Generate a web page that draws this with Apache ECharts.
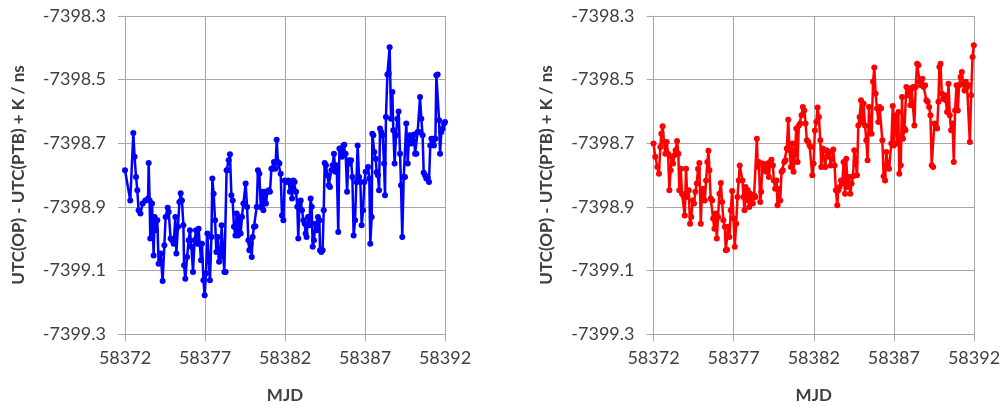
<!DOCTYPE html>
<html><head><meta charset="utf-8">
<script src="https://cdn.jsdelivr.net/npm/echarts@6/dist/echarts.min.js"></script>
<style>html,body{margin:0;padding:0;background:#fff}#c{width:1006px;height:410px}</style>
</head><body><div id="c"></div>
<script>
const xTicks = [58372, 58377, 58382, 58387, 58392];
const yTicks = [-7399.3, -7399.1, -7398.9, -7398.7, -7398.5, -7398.3];
const xTitle = 'MJD';
const yTitle = 'UTC(OP) - UTC(PTB) + K / ns';

const blueMjd = [
58372.00,58372.33,58372.52,58372.60,58372.69,58372.77,58372.85,58372.96,58373.10,58373.27,
58373.44,58373.48,58373.54,58373.58,58373.69,58373.79,58373.85,58373.94,58374.02,58374.10,
58374.23,58374.35,58374.46,58374.54,58374.67,58374.73,58374.85,58374.94,58375.04,58375.15,
58375.21,58375.31,58375.40,58375.48,58375.56,58375.65,58375.69,58375.77,58375.88,58375.98,
58376.06,58376.15,58376.25,58376.35,58376.44,58376.52,58376.60,58376.67,58376.75,58376.81,
58376.90,58376.98,
58377.06,58377.15,58377.23,58377.31,58377.40,58377.46,58377.54,58377.63,58377.71,58377.79,
58377.88,58377.96,58378.04,58378.13,58378.21,58378.29,58378.35,58378.42,58378.48,58378.56,
58378.65,58378.73,58378.81,58378.90,58378.98,58379.06,58379.15,58379.23,58379.31,58379.40,
58379.48,58379.54,58379.63,58379.71,58379.77,58379.85,58379.92,58379.98,58380.06,58380.15,
58380.23,58380.31,58380.40,58380.48,58380.56,58380.65,58380.73,58380.81,58380.90,58380.98,
58381.06,58381.15,58381.23,58381.31,58381.40,58381.48,58381.56,58381.65,58381.73,58381.81,
58381.90,58381.98,
58382.10,58382.21,58382.31,58382.38,58382.44,58382.52,58382.60,58382.69,58382.77,58382.83,
58382.90,58382.98,58383.06,58383.15,58383.23,58383.29,58383.35,58383.44,58383.52,58383.60,
58383.67,58383.73,58383.81,58383.90,58383.98,58384.06,58384.15,58384.19,58384.27,58384.35,
58384.42,58384.48,58384.56,58384.65,58384.73,58384.81,58384.90,58384.98,58385.06,58385.15,
58385.23,58385.33,58385.40,58385.48,58385.56,58385.65,58385.71,58385.79,58385.88,58385.96,
58386.04,58386.13,58386.21,58386.29,58386.38,58386.46,58386.54,58386.63,58386.71,58386.79,
58386.88,58386.96,58387.04,
58387.19,58387.27,58387.33,58387.42,58387.46,58387.52,58387.58,58387.67,58387.73,58387.81,
58387.88,58387.94,58388.02,58388.10,58388.19,58388.25,58388.31,58388.40,58388.48,58388.54,
58388.63,58388.71,58388.77,58388.85,58388.94,58389.02,58389.10,58389.19,58389.25,58389.33,
58389.42,58389.50,58389.58,58389.67,58389.73,58389.81,58389.90,58389.98,58390.06,58390.13,
58390.21,58390.29,58390.38,58390.44,58390.52,58390.60,58390.67,58390.75,58390.83,58390.92,
58391.00,58391.08,58391.15,58391.23,58391.31,58391.40,58391.46,58391.54,58391.63,58391.69,
58391.77,58391.85,58391.94,58392.00
];
const blueVal = [
-7398.785,-7398.880,-7398.668,-7398.743,-7398.806,-7398.848,-7398.911,-7398.921,-7398.890,-7398.880,
-7398.874,-7398.762,-7398.880,-7399.000,-7398.890,-7399.053,-7398.932,-7398.974,-7398.942,-7399.079,
-7399.047,-7399.133,-7399.021,-7398.932,-7398.903,-7398.916,-7399.000,-7399.005,-7399.016,-7398.932,
-7399.047,-7398.963,-7398.885,-7398.857,-7398.880,-7398.958,-7399.084,-7399.126,-7399.058,-7399.005,
-7398.974,-7399.026,-7399.105,-7399.005,-7398.974,-7399.016,-7398.969,-7399.016,-7399.068,-7399.016,
-7399.131,-7399.178,
-7399.110,-7398.984,-7399.068,-7399.131,-7398.995,-7398.811,-7398.859,-7398.942,-7399.042,-7398.995,
-7399.073,-7399.058,-7398.958,-7399.047,-7399.105,-7399.105,-7398.785,-7398.785,-7398.754,-7398.735,
-7398.864,-7398.880,-7398.963,-7398.990,-7398.921,-7398.990,-7398.932,-7398.984,-7398.932,-7398.890,
-7398.890,-7398.827,-7398.901,-7399.005,-7399.037,-7399.016,-7399.058,-7398.995,-7398.963,-7398.961,
-7398.901,-7398.785,-7398.796,-7398.901,-7398.853,-7398.911,-7398.853,-7398.890,-7398.853,-7398.848,
-7398.853,-7398.780,-7398.780,-7398.759,-7398.780,-7398.689,-7398.759,-7398.764,-7398.796,-7398.927,
-7398.942,-7398.817,
-7398.822,-7398.817,-7398.853,-7398.832,-7398.874,-7398.817,-7398.822,-7398.853,-7398.900,-7399.000,
-7398.890,-7398.880,-7398.911,-7398.942,-7398.953,-7398.984,-7398.995,-7398.932,-7398.958,-7398.874,
-7398.900,-7399.026,-7399.005,-7398.953,-7398.974,-7398.932,-7398.942,-7399.037,-7399.042,-7399.037,
-7398.911,-7398.762,-7398.769,-7398.801,-7398.832,-7398.838,-7398.785,-7398.769,-7398.733,-7398.790,
-7398.769,-7398.979,-7398.717,-7398.722,-7398.743,-7398.707,-7398.705,-7398.733,-7398.853,-7398.754,
-7398.764,-7398.754,-7398.806,-7398.990,-7398.942,-7398.822,-7398.707,-7398.806,-7398.822,-7398.958,
-7398.911,-7398.822,-7398.790,
-7398.775,-7398.811,-7399.016,-7398.932,-7398.670,-7398.675,-7398.728,-7398.749,-7398.791,-7398.801,
-7398.848,-7398.654,-7398.665,-7398.675,-7398.764,-7398.864,-7398.618,-7398.484,-7398.481,-7398.398,
-7398.623,-7398.539,-7398.659,-7398.764,-7398.675,-7398.623,-7398.600,-7398.733,-7398.832,-7398.995,
-7398.806,-7398.806,-7398.638,-7398.764,-7398.701,-7398.675,-7398.701,-7398.696,-7398.673,-7398.733,
-7398.733,-7398.665,-7398.665,-7398.555,-7398.623,-7398.675,-7398.793,-7398.801,-7398.811,-7398.809,
-7398.822,-7398.707,-7398.686,-7398.686,-7398.707,-7398.686,-7398.486,-7398.484,-7398.628,-7398.733,
-7398.665,-7398.654,-7398.638,-7398.633
];

const redMjd = [
58372.00,58372.11,58372.24,58372.34,58372.43,58372.49,58372.57,58372.66,58372.74,58372.82,
58372.91,58372.99,58373.07,58373.13,58373.22,58373.30,58373.38,58373.47,58373.55,58373.61,
58373.70,58373.78,58373.86,58373.95,58374.03,58374.11,58374.20,58374.28,58374.36,58374.45,
58374.53,58374.61,58374.70,58374.78,58374.86,58374.95,58375.03,58375.11,58375.20,58375.28,
58375.36,58375.43,58375.49,58375.57,58375.66,58375.72,58375.80,58375.88,58375.95,58376.03,
58376.11,58376.20,58376.28,58376.36,58376.45,58376.51,58376.59,58376.66,58376.74,58376.82,
58376.91,58376.99,58377.07,58377.16,58377.24,58377.32,58377.38,
58377.55,58377.61,58377.68,58377.74,58377.82,58377.88,58377.97,58378.03,58378.11,58378.20,
58378.28,58378.36,58378.45,58378.51,58378.57,58378.66,58378.72,58378.80,58378.86,58378.95,
58379.03,58379.11,58379.20,58379.28,58379.36,58379.45,58379.51,58379.59,58379.68,58379.74,
58379.82,58379.91,58379.99,58380.07,58380.16,58380.24,58380.32,58380.41,58380.49,58380.57,
58380.66,58380.74,58380.82,58380.91,58380.99,58381.07,58381.16,58381.24,58381.32,58381.41,
58381.49,58381.57,58381.66,58381.74,58381.82,58381.91,58381.99,
58382.07,58382.16,58382.24,58382.32,58382.41,58382.47,58382.55,58382.63,58382.72,58382.80,
58382.88,58382.97,58383.05,58383.14,58383.22,58383.30,58383.38,58383.47,58383.53,58383.61,
58383.70,58383.78,58383.86,58383.95,58384.03,58384.11,58384.20,58384.28,58384.36,58384.45,
58384.53,58384.61,58384.70,58384.78,58384.86,58384.95,58385.03,58385.11,58385.20,58385.28,
58385.36,58385.45,58385.53,58385.61,58385.70,58385.78,58385.86,58385.95,58386.03,58386.11,
58386.20,58386.28,58386.36,58386.45,58386.53,58386.61,58386.70,
58386.84,58386.93,58386.99,58387.05,58387.13,58387.20,58387.28,58387.34,58387.43,58387.51,
58387.57,58387.66,58387.72,58387.78,58387.86,58387.95,58388.03,58388.11,58388.20,58388.28,
58388.36,58388.45,58388.53,58388.61,58388.70,58388.78,58388.86,58388.95,58389.03,58389.11,
58389.20,58389.28,58389.36,58389.45,58389.53,58389.61,58389.70,58389.78,58389.84,58389.91,
58389.99,58390.07,58390.16,58390.24,58390.32,58390.41,58390.49,58390.57,58390.66,58390.74,
58390.82,58390.91,58390.99,58391.07,58391.16,58391.24,58391.32,58391.41,58391.49,58391.57,
58391.66,58391.74,58391.82,58391.91,58391.99
];
const redVal = [
-7398.701,-7398.743,-7398.775,-7398.796,-7398.712,-7398.670,-7398.647,-7398.696,-7398.733,-7398.696,
-7398.733,-7398.848,-7398.785,-7398.743,-7398.764,-7398.738,-7398.722,-7398.693,-7398.733,-7398.848,
-7398.780,-7398.859,-7398.864,-7398.927,-7398.780,-7398.869,-7398.848,-7398.953,-7398.932,-7398.880,
-7398.890,-7398.853,-7398.827,-7398.780,-7398.762,-7398.953,-7398.848,-7398.843,-7398.880,-7398.817,
-7398.759,-7398.724,-7398.785,-7398.874,-7398.880,-7398.937,-7398.969,-7398.921,-7399.000,-7398.932,
-7398.859,-7398.825,-7398.885,-7398.942,-7398.963,-7399.037,-7399.035,-7398.963,-7398.995,-7398.911,
-7398.850,-7398.937,-7399.026,-7398.953,-7398.869,-7398.817,-7398.770,
-7398.817,-7398.869,-7398.911,-7398.838,-7398.880,-7398.848,-7398.901,-7398.859,-7398.880,-7398.890,
-7398.864,-7398.869,-7398.686,-7398.775,-7398.759,-7398.885,-7398.853,-7398.764,-7398.785,-7398.769,
-7398.790,-7398.764,-7398.806,-7398.759,-7398.752,-7398.769,-7398.817,-7398.843,-7398.817,-7398.895,
-7398.843,-7398.880,-7398.790,-7398.785,-7398.759,-7398.754,-7398.717,-7398.626,-7398.722,-7398.775,
-7398.701,-7398.790,-7398.733,-7398.654,-7398.759,-7398.644,-7398.638,-7398.612,-7398.586,-7398.597,
-7398.638,-7398.691,-7398.696,-7398.707,-7398.712,-7398.801,-7398.764,
-7398.660,-7398.633,-7398.588,-7398.618,-7398.691,-7398.775,-7398.717,-7398.722,-7398.775,-7398.722,
-7398.743,-7398.728,-7398.770,-7398.749,-7398.720,-7398.770,-7398.848,-7398.895,-7398.848,-7398.838,
-7398.817,-7398.827,-7398.759,-7398.859,-7398.749,-7398.838,-7398.806,-7398.859,-7398.827,-7398.804,
-7398.722,-7398.759,-7398.801,-7398.644,-7398.618,-7398.565,-7398.633,-7398.576,-7398.644,-7398.691,
-7398.754,-7398.586,-7398.649,-7398.670,-7398.507,-7398.462,-7398.544,-7398.591,-7398.633,-7398.586,
-7398.591,-7398.691,-7398.804,-7398.817,-7398.728,-7398.764,-7398.780,
-7398.701,-7398.583,-7398.707,-7398.644,-7398.612,-7398.701,-7398.602,-7398.796,-7398.769,-7398.555,
-7398.686,-7398.654,-7398.659,-7398.523,-7398.549,-7398.528,-7398.581,-7398.528,-7398.523,-7398.644,
-7398.523,-7398.450,-7398.455,-7398.507,-7398.518,-7398.497,-7398.523,-7398.518,-7398.565,-7398.570,
-7398.586,-7398.612,-7398.769,-7398.775,-7398.638,-7398.644,-7398.654,-7398.570,-7398.460,-7398.450,
-7398.544,-7398.560,-7398.549,-7398.565,-7398.602,-7398.513,-7398.612,-7398.659,-7398.638,-7398.759,
-7398.597,-7398.518,-7398.597,-7398.518,-7398.492,-7398.476,-7398.513,-7398.534,-7398.507,-7398.523,
-7398.518,-7398.696,-7398.549,-7398.429,-7398.392
];

const FONT = 'Lato, "Open Sans", sans-serif';
const TXT = '#404040';
const GRIDC = '#a6a6a6';
const pairs = (xs, ys) => xs.map((x, i) => [x, ys[i]]);
const yInterval = Math.round((yTicks[1] - yTicks[0]) * 10) / 10;
const xInterval = xTicks[1] - xTicks[0];

function xAxisCfg(gi) {
  return {
    type: 'value', gridIndex: gi,
    min: xTicks[0], max: xTicks[xTicks.length - 1], interval: xInterval,
    name: xTitle, nameLocation: 'middle', nameGap: 53,
    nameTextStyle: { fontFamily: FONT, fontSize: 17, fontWeight: 'bold', color: TXT },
    axisLine: { show: true, onZero: false, lineStyle: { color: GRIDC, width: 1 } },
    axisTick: { show: true, inside: false, length: 7, lineStyle: { color: GRIDC } },
    axisLabel: { fontFamily: FONT, fontSize: 18, color: TXT, margin: 15, formatter: v => String(Math.round(v)) },
    splitLine: { show: true, lineStyle: { color: GRIDC, width: 1 } }
  };
}
function yAxisCfg(gi) {
  return {
    type: 'value', gridIndex: gi,
    min: yTicks[0], max: yTicks[yTicks.length - 1], interval: yInterval,
    name: yTitle, nameLocation: 'middle', nameGap: 98, nameRotate: 90,
    nameTextStyle: { fontFamily: FONT, fontSize: 17, fontWeight: 'bold', color: TXT },
    axisLine: { show: true, onZero: false, lineStyle: { color: GRIDC, width: 1 } },
    axisTick: { show: true, inside: false, length: 7, lineStyle: { color: GRIDC } },
    axisLabel: { fontFamily: FONT, fontSize: 18, color: TXT, margin: 19, formatter: v => v.toFixed(1) },
    splitLine: { show: true, lineStyle: { color: GRIDC, width: 1 } }
  };
}
function lineSeries(gi, data, color) {
  return {
    type: 'line', xAxisIndex: gi, yAxisIndex: gi, data: data,
    symbol: 'circle', symbolSize: 6, showSymbol: true,
    itemStyle: { color: color }, lineStyle: { color: color, width: 2.5 },
    animation: false
  };
}

const chart = echarts.init(document.getElementById('c'), null, { renderer: 'canvas' });
chart.setOption({
  backgroundColor: '#ffffff',
  animation: false,
  grid: [
    { left: 125, top: 16, width: 320, height: 318 },
    { left: 653.5, top: 16, width: 320.5, height: 318 }
  ],
  xAxis: [xAxisCfg(0), xAxisCfg(1)],
  yAxis: [yAxisCfg(0), yAxisCfg(1)],
  series: [
    lineSeries(0, pairs(blueMjd, blueVal), '#0000ff'),
    lineSeries(1, pairs(redMjd, redVal), '#ff0000')
  ]
});
</script>
</body></html>
